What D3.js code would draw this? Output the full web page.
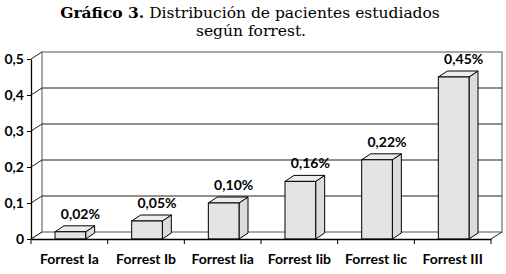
<!DOCTYPE html>
<html>
<head>
<meta charset="utf-8">
<script src="https://cdn.jsdelivr.net/npm/d3@7"></script>
<style>
  body { margin: 0; background: #fff; }
  svg { display: block; }
</style>
</head>
<body>
<div id="grafico"></div>
<script>
// Datos del gráfico
var categorias = ["Forrest Ia", "Forrest Ib", "Forrest Iia", "Forrest Iib", "Forrest Iic", "Forrest III"];
var valores = [0.02, 0.05, 0.10, 0.16, 0.22, 0.45];
var etiquetas = ["0,02%", "0,05%", "0,10%", "0,16%", "0,22%", "0,45%"];
var ticksY = [0, 0.1, 0.2, 0.3, 0.4, 0.5];
var ticksYTexto = ["0", "0,1", "0,2", "0,3", "0,4", "0,5"];

var width = 506, height = 274;
var margin = { left: 31, right: 15, top: 59, bottom: 35 };
// profundidad 3D de la pared y de las barras
var pdx = 11, pdy = -7;
var bdx = 9, bdy = -6;

var svg = d3.select("#grafico")
    .append("svg")
    .attr("width", width)
    .attr("height", height);

// Título
var titulo = svg.append("text")
    .attr("x", 250)
    .attr("y", 18)
    .attr("text-anchor", "middle")
    .style("font-family", "'DejaVu Serif', serif")
    .style("font-size", "15.5px");
titulo.append("tspan").style("font-weight", "bold").text("Gráfico 3.");
titulo.append("tspan").text(" Distribución de pacientes estudiados");
svg.append("text")
    .attr("x", 251)
    .attr("y", 36)
    .attr("text-anchor", "middle")
    .style("font-family", "'DejaVu Serif', serif")
    .style("font-size", "15.5px")
    .text("según forrest.");

// Escalas
var xScale = d3.scaleBand()
    .domain(categorias)
    .range([margin.left, width - margin.right])
    .padding(0);

var yScale = d3.scaleLinear()
    .domain([0, 0.5])
    .range([height - margin.bottom, margin.top]);

var x0 = margin.left, x1 = width - margin.right;
var y0 = yScale(0), yTop = yScale(0.5);

// Pared del fondo
var pared = svg.append("g");
pared.append("rect")
    .attr("x", x0 + pdx).attr("y", yTop + pdy)
    .attr("width", x1 - x0).attr("height", y0 - yTop)
    .attr("fill", "none")
    .attr("stroke", "#8c8c8c")
    .attr("stroke-width", 1.5);

// Líneas de la cuadrícula (pared lateral + fondo)
ticksY.forEach(function (v) {
    var y = yScale(v);
    pared.append("line")
        .attr("x1", x0).attr("y1", y)
        .attr("x2", x0 + pdx).attr("y2", y + pdy)
        .attr("stroke", v === 0 ? "#000" : "#222").attr("stroke-width", 1);
    if (v > 0 && v < 0.5) {
        pared.append("line")
            .attr("x1", x0 + pdx).attr("y1", y + pdy)
            .attr("x2", x1 + pdx).attr("y2", y + pdy)
            .attr("stroke", "#222").attr("stroke-width", 1.2);
    }
});
pared.append("line")
    .attr("x1", x1).attr("y1", y0)
    .attr("x2", x1 + pdx).attr("y2", y0 + pdy)
    .attr("stroke", "#222");

// Barras 3D
var bw = xScale.bandwidth() * 0.4;
var barras = svg.selectAll("g.barra")
    .data(valores)
    .enter()
    .append("g")
    .attr("class", "barra");

function bx(d, i) { return xScale(categorias[i]) + (xScale.bandwidth() - bw) / 2 + 1; }

// cara lateral
barras.append("path")
    .attr("d", function (d, i) {
        var x = bx(d, i) + bw, yt = yScale(d);
        return "M" + x + "," + y0 + "L" + (x + bdx) + "," + (y0 + bdy) +
            "L" + (x + bdx) + "," + (yt + bdy) + "L" + x + "," + yt + "Z";
    })
    .attr("fill", "#dcdcdc")
    .attr("stroke", "#000")
    .attr("stroke-width", 1);

// cara superior
barras.append("path")
    .attr("d", function (d, i) {
        var x = bx(d, i), yt = yScale(d);
        return "M" + x + "," + yt + "L" + (x + bdx) + "," + (yt + bdy) +
            "L" + (x + bw + bdx) + "," + (yt + bdy) + "L" + (x + bw) + "," + yt + "Z";
    })
    .attr("fill", "#ececec")
    .attr("stroke", "#000")
    .attr("stroke-width", 1);

// cara frontal
barras.append("rect")
    .attr("x", bx)
    .attr("y", function (d) { return yScale(d); })
    .attr("width", bw)
    .attr("height", function (d) { return y0 - yScale(d); })
    .attr("fill", "#e4e4e4")
    .attr("stroke", "#000")
    .attr("stroke-width", 1);

// Etiquetas de valores
barras.append("text")
    .attr("x", function (d, i) { return bx(d, i) + bw / 2 + 10; })
    .attr("y", function (d) { return yScale(d) - 13; })
    .attr("text-anchor", "middle")
    .style("font-family", "Lato, sans-serif")
    .style("font-weight", "bold")
    .style("font-size", "14px")
    .text(function (d, i) { return etiquetas[i]; });

// Eje Y
var ejeY = svg.append("g")
    .attr("transform", "translate(" + x0 + ",0)")
    .call(d3.axisLeft(yScale)
        .tickValues(ticksY)
        .tickSize(4)
        .tickSizeOuter(0)
        .tickFormat(function (d, i) { return ticksYTexto[i]; }));
ejeY.selectAll("text")
    .attr("x", -7)
    .style("font-family", "Lato, sans-serif")
    .style("font-weight", "bold")
    .style("font-size", "14px")
    .attr("fill", "#000");
ejeY.select(".domain").attr("stroke-width", 1.3);

// Eje X
var ejeX = svg.append("g")
    .attr("transform", "translate(0," + y0 + ")")
    .call(d3.axisBottom(xScale).tickSize(0).tickSizeOuter(0).tickPadding(15));
ejeX.selectAll("text")
    .style("font-family", "Lato, sans-serif")
    .style("font-weight", "bold")
    .style("font-size", "14px")
    .attr("fill", "#000");
ejeX.select(".domain").attr("stroke-width", 1.3);

// marcas entre categorías
var bordes = categorias.map(function (c) { return xScale(c); }).concat([x1]);
ejeX.selectAll("line.marca")
    .data(bordes)
    .enter()
    .append("line")
    .attr("class", "marca")
    .attr("x1", function (d) { return d; })
    .attr("x2", function (d) { return d; })
    .attr("y1", 0)
    .attr("y2", 5)
    .attr("stroke", "#000");
</script>
</body>
</html>
